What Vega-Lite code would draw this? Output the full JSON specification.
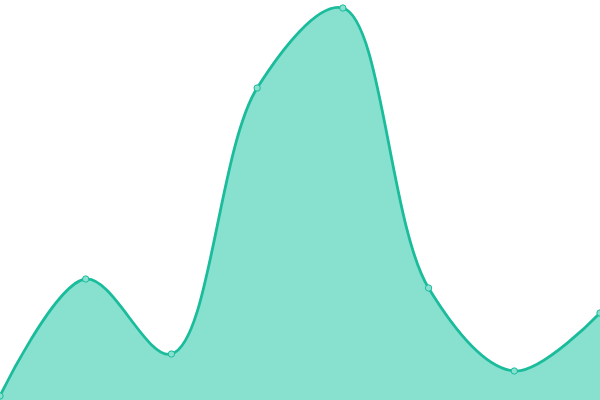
{
  "$schema": "https://vega.github.io/schema/vega-lite/v6.json",
  "width": 600,
  "height": 400,
  "autosize": "none",
  "padding": 0,
  "config": {"view": {"stroke": null}},
  "data": {
    "values": [
      {"i": 0, "v": 4},
      {"i": 1, "v": 121},
      {"i": 2, "v": 46},
      {"i": 3, "v": 312},
      {"i": 4, "v": 392},
      {"i": 5, "v": 112},
      {"i": 6, "v": 29},
      {"i": 7, "v": 87}
    ]
  },
  "encoding": {
    "x": {"field": "i", "type": "quantitative", "scale": {"domain": [0, 7], "nice": false}, "axis": null},
    "y": {"field": "v", "type": "quantitative", "scale": {"domain": [0, 400], "nice": false}, "axis": null}
  },
  "layer": [
    {"mark": {"type": "area", "interpolate": "catmull-rom", "color": "#88e0cf", "opacity": 1}},
    {"mark": {"type": "line", "interpolate": "catmull-rom", "color": "#1abc9c", "strokeWidth": 2.8}},
    {"mark": {"type": "point", "filled": true, "fill": "#88e0cf", "stroke": "#1abc9c", "strokeWidth": 1, "size": 40, "opacity": 1}}
  ]
}
